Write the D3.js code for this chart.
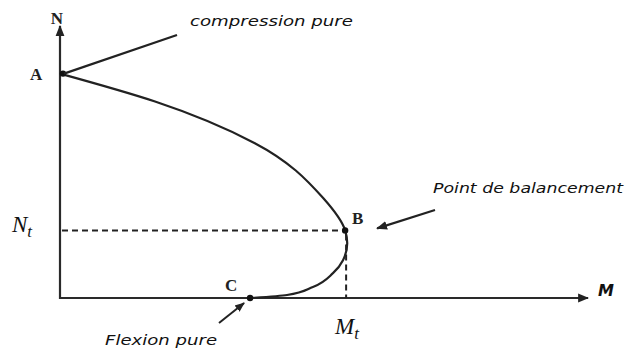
<!DOCTYPE html>
<html>
<head>
<meta charset="utf-8">
<script src="https://cdn.jsdelivr.net/npm/d3@7/dist/d3.min.js"></script>
<style>
    body { margin: 0; background: #fff; }
    .axis-line { stroke: #2a2a2a; stroke-width: 2.2; fill: none; }
    .curve { stroke: #222; stroke-width: 2.2; fill: none; }
    .guide { stroke: #222; stroke-width: 2; stroke-dasharray: 6 4; fill: none; }
    .note { font-family: "DejaVu Sans", sans-serif; font-style: italic; font-size: 14px; fill: #111; }
    .pt-label { font-family: "Liberation Serif", serif; font-weight: bold; font-size: 17px; fill: #222; }
    .math { font-family: "Liberation Serif", serif; font-style: italic; fill: #111; }
</style>
</head>
<body>
<svg id="chart" width="626" height="353"></svg>
<script>
// interaction curve N-M (M, N in % of axis length)
let curveM = [0, 18.0, 36.9, 49.8, 54.0, 54.4, 53.6, 51.7, 47.9, 43.0, 36.0];
let curveN = [81.3, 71.2, 56.1, 36.3, 24.5, 19.8, 13.7, 9.0, 4.0, 1.1, 0];

// named points A (compression pure), B (balancement), C (flexion pure)
let pointNames = ["A", "B", "C"];
let pointM = [0, 54.0, 36.0];
let pointN = [81.3, 24.5, 0];

let Mt = 54.0;
let Nt = 24.5;

let svg = d3.select("#chart");

let x = d3.scaleLinear().domain([0, 100]).range([60, 588]);
let y = d3.scaleLinear().domain([0, 100]).range([298, 22]);

// arrow markers
let defs = svg.append("defs");
defs.append("marker")
    .attr("id", "head")
    .attr("viewBox", "0 0 10 10")
    .attr("refX", 9).attr("refY", 5)
    .attr("markerWidth", 5).attr("markerHeight", 5)
    .attr("markerUnits", "strokeWidth")
    .attr("orient", "auto")
    .append("path").attr("d", "M0,1 L10,5 L0,9 Z").attr("fill", "#222");

// axes
svg.append("line").attr("class", "axis-line")
    .attr("x1", x(0)).attr("y1", y(0) + 1)
    .attr("x2", x(0)).attr("y2", y(100) + 4)
    .attr("marker-end", "url(#head)");
svg.append("line").attr("class", "axis-line")
    .attr("x1", x(0) - 1).attr("y1", y(0))
    .attr("x2", x(100)).attr("y2", y(0))
    .attr("marker-end", "url(#head)");

svg.append("text").attr("class", "pt-label")
    .attr("x", x(0) - 3).attr("y", y(100) + 2)
    .attr("text-anchor", "middle")
    .text("N");
svg.append("text")
    .attr("x", x(100) + 10).attr("y", y(0) - 2)
    .attr("font-family", "DejaVu Sans, sans-serif")
    .attr("font-weight", "bold").attr("font-style", "italic")
    .attr("font-size", 16).attr("fill", "#111")
    .text("M");

// dashed guides to B
svg.append("line").attr("class", "guide")
    .attr("x1", x(0) + 2).attr("y1", y(Nt))
    .attr("x2", x(Mt)).attr("y2", y(Nt));
svg.append("line").attr("class", "guide")
    .attr("x1", x(Mt) + 1).attr("y1", y(Nt) + 4)
    .attr("x2", x(Mt) + 1).attr("y2", y(0));

// interaction curve (N is monotone along the curve)
let curveData = curveM.map((m, i) => [m, curveN[i]]);
let line = d3.line()
    .x(d => x(d[0]))
    .y(d => y(d[1]))
    .curve(d3.curveMonotoneY);
svg.append("path").attr("class", "curve").attr("d", line(curveData));

// points
svg.selectAll(".dot").data(pointNames).enter()
    .append("circle").attr("class", "dot")
    .attr("cx", (d, i) => x(pointM[i]) + (i === 0 ? 3 : 0))
    .attr("cy", (d, i) => y(pointN[i]))
    .attr("r", 3.2).attr("fill", "#111");

let labelOffsets = [[-30, 6], [7, -6], [-25, -7]];
svg.selectAll(".pt-name").data(pointNames).enter()
    .append("text").attr("class", "pt-label")
    .attr("x", (d, i) => x(pointM[i]) + labelOffsets[i][0])
    .attr("y", (d, i) => y(pointN[i]) + labelOffsets[i][1])
    .text(d => d);

// annotations
let ax = x(pointM[0]), ay = y(pointN[0]);
svg.append("line").attr("stroke", "#222").attr("stroke-width", 2.2)
    .attr("x1", ax + 4).attr("y1", ay)
    .attr("x2", 177).attr("y2", 35);
svg.append("text").attr("class", "note")
    .attr("x", 190).attr("y", 26)
    .attr("textLength", 163).attr("lengthAdjust", "spacingAndGlyphs")
    .text("compression pure");

let bx = x(pointM[1]), by = y(pointN[1]);
svg.append("line").attr("stroke", "#222").attr("stroke-width", 2.2)
    .attr("x1", 435).attr("y1", 210)
    .attr("x2", bx + 32).attr("y2", by - 2)
    .attr("marker-end", "url(#head)");
svg.append("text").attr("class", "note")
    .attr("x", 433).attr("y", 193)
    .attr("textLength", 190).attr("lengthAdjust", "spacingAndGlyphs")
    .text("Point de balancement");

let cx = x(pointM[2]), cy = y(pointN[2]);
svg.append("line").attr("stroke", "#222").attr("stroke-width", 2)
    .attr("x1", 219).attr("y1", 323)
    .attr("x2", cx - 6).attr("y2", cy + 5)
    .attr("marker-end", "url(#head)");
svg.append("text").attr("class", "note")
    .attr("x", 105).attr("y", 345)
    .attr("textLength", 112).attr("lengthAdjust", "spacingAndGlyphs")
    .text("Flexion pure");

// N_t and M_t
let nt = svg.append("text").attr("class", "math")
    .attr("x", 12).attr("y", y(Nt) + 2).attr("font-size", 23);
nt.append("tspan").text("N");
nt.append("tspan").attr("font-size", 17).attr("dy", 5).text("t");

let mt = svg.append("text").attr("class", "math")
    .attr("x", x(Mt) - 10).attr("y", 334).attr("font-size", 23);
mt.append("tspan").text("M");
mt.append("tspan").attr("font-size", 17).attr("dy", 5).text("t");
</script>
</body>
</html>
